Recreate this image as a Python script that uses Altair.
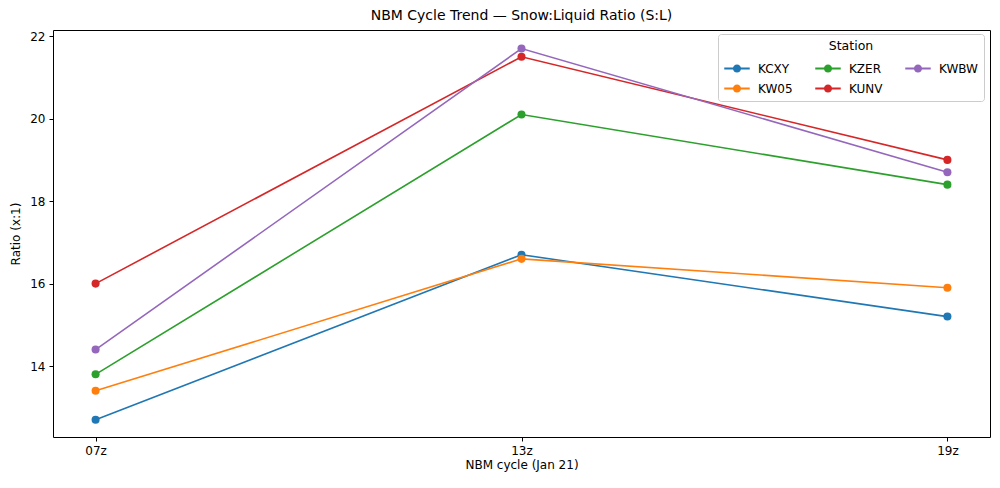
import altair as alt
import pandas as pd

cycles = ["07z", "13z", "19z"]
stations = ["KCXY", "KW05", "KZER", "KUNV", "KWBW"]
kcxy = [12.7, 16.7, 15.2]
kw05 = [13.4, 16.6, 15.9]
kzer = [13.8, 20.1, 18.4]
kunv = [16.0, 21.5, 19.0]
kwbw = [14.4, 21.7, 18.7]
colors = {"KCXY": "#1f77b4", "KW05": "#ff7f0e", "KZER": "#2ca02c", "KUNV": "#d62728", "KWBW": "#9467bd"}

series = {"KCXY": kcxy, "KW05": kw05, "KZER": kzer, "KUNV": kunv, "KWBW": kwbw}
rows = []
for s in stations:
    for i, (c, v) in enumerate(zip(cycles, series[s])):
        rows.append({"Station": s, "idx": i, "cycle": c, "ratio": v})
df = pd.DataFrame(rows)

color_scale = alt.Scale(domain=stations, range=[colors[s] for s in stations])

sym = ("M-1,-0.07H1V0.07H-1Z "
       "M-0.32,0A0.32,0.32 0 1,1 0.32,0A0.32,0.32 0 1,1 -0.32,0Z")

label_expr = "datum.value == 0 ? '07z' : datum.value == 1 ? '13z' : datum.value == 2 ? '19z' : ''"

x = alt.X("idx:Q", title="NBM cycle (Jan 21)",
          scale=alt.Scale(domain=[-0.1, 2.1], nice=False, zero=False),
          axis=alt.Axis(values=[0, 1, 2], labelExpr=label_expr, grid=False))
y = alt.Y("ratio:Q", title="Ratio (x:1)",
          scale=alt.Scale(domain=[12.28, 22.15], nice=False, zero=False),
          axis=alt.Axis(values=[14, 16, 18, 20, 22], grid=False))
color = alt.Color("Station:N", scale=color_scale,
                  legend=alt.Legend(title="Station", orient="none", legendX=665, legendY=4,
                                    columns=3, symbolType=sym, symbolSize=650,
                                    symbolStrokeWidth=0, columnPadding=22, rowPadding=1,
                                    padding=6, strokeColor="#cccccc", fillColor="white",
                                    cornerRadius=3, titleAnchor="middle", titleAlign="center",
                                    titleFontSize=12.5, titleFontWeight="normal", labelFontSize=12,
                                    symbolOffset=0, labelOffset=8, titlePadding=3,
                                    titleColor="black", labelColor="black"))

base = alt.Chart(df).encode(x=x, y=y, color=color, detail="Station:N", order="idx:Q")
lines = base.mark_line(strokeWidth=1.6)
points = base.mark_point(filled=True, size=65, opacity=1)

chart = (lines + points).properties(
    width=937, height=407,
    title=alt.Title("NBM Cycle Trend — Snow:Liquid Ratio (S:L)", fontSize=14, fontWeight="normal",
                    color="black", offset=7),
    autosize=alt.AutoSizeParams(type="none"),
    padding={"left": 45, "top": 22, "right": 2, "bottom": 40},
).configure(font="DejaVu Sans").configure_view(
    stroke="black", strokeWidth=1
).configure_axis(
    domain=False, tickColor="black", tickSize=4, labelColor="black", labelFontSize=12,
    titleColor="black", titleFontSize=12, titleFontWeight="normal", labelPadding=4, ticks=True
).configure_axisX(titlePadding=3).configure_axisY(titlePadding=7)

chart.save("out.html", embed_options={"renderer": "svg", "actions": False})
